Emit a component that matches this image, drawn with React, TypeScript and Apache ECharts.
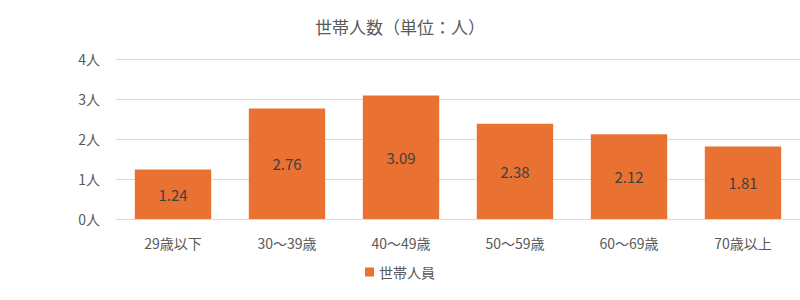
import React, { useEffect, useRef } from "react";
import * as echarts from "echarts";

const categories = ["29歳以下", "30～39歳", "40～49歳", "50～59歳", "60～69歳", "70歳以上"];
const values = [1.24, 2.76, 3.09, 2.38, 2.12, 1.81];
const seriesName = "世帯人員";
const titleText = "世帯人数（単位：人）";

const FONT = "'Noto Sans CJK JP', 'Noto Sans', sans-serif";

export default function App() {
  const ref = useRef<HTMLDivElement>(null);
  useEffect(() => {
    const chart = echarts.init(ref.current!, null, { renderer: "svg" });
    chart.setOption({
      animation: false,
      backgroundColor: "#ffffff",
      textStyle: { fontFamily: FONT },
      title: {
        text: titleText,
        left: "center",
        top: 13,
        textStyle: { fontSize: 17, fontWeight: "normal", color: "#595959", fontFamily: FONT },
      },
      legend: {
        bottom: 16,
        left: "center",
        itemWidth: 9,
        itemHeight: 9,
        itemGap: 6,
        icon: "rect",
        textStyle: { fontSize: 14, color: "#595959", fontFamily: FONT },
        data: [seriesName],
      },
      grid: { left: 116, right: 0, top: 59, bottom: 81, containLabel: false },
      xAxis: {
        type: "category",
        data: categories,
        axisLine: { lineStyle: { color: "#D9D9D9" } },
        axisTick: { show: false },
        axisLabel: { fontSize: 14, color: "#595959", margin: 17, fontFamily: FONT },
      },
      yAxis: {
        type: "value",
        min: 0,
        max: 4,
        interval: 1,
        axisLabel: { fontSize: 14, color: "#595959", margin: 16, formatter: "{value}人", fontFamily: FONT },
        splitLine: { lineStyle: { color: "#D9D9D9" } },
        axisLine: { show: false },
        axisTick: { show: false },
      },
      series: [
        {
          name: seriesName,
          type: "bar",
          data: values,
          barWidth: "67%",
          itemStyle: { color: "#E97132" },
          label: {
            show: true,
            position: "inside",
            fontSize: 15,
            color: "#404040",
            fontFamily: FONT,
            formatter: (p: any) => p.value.toFixed(2),
          },
        },
      ],
    });
    return () => chart.dispose();
  }, []);
  return <div ref={ref} style={{ position: "absolute", left: 0, top: 0, width: 800, height: 300 }} />;
}
